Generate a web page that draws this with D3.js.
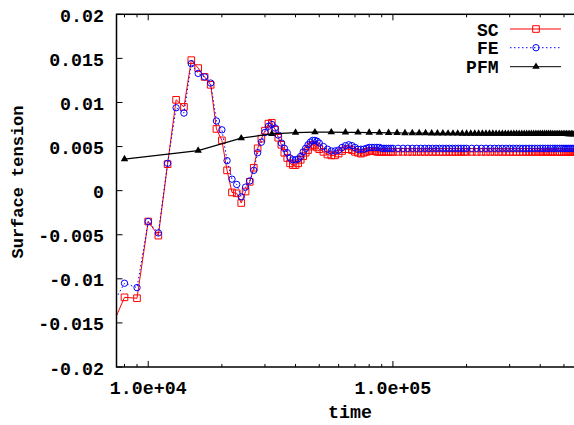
<!DOCTYPE html>
<html><head><meta charset="utf-8">
<script src="https://cdn.jsdelivr.net/npm/d3@7"></script>
<style>
html,body{margin:0;padding:0;background:#fff;overflow:hidden}
svg text{font-family:"Liberation Mono","DejaVu Sans Mono",monospace;font-weight:bold}
</style></head>
<body>
<svg id="c" width="574" height="425"></svg>
<script>
// sample times (in thousands) for SC and FE
const timeK = [7,8,9,10,11,12,13,14,15,16,17,18,19,20,21,22,23,24,25,26,27,28,29,30,31,32,33,34,35,36,37,38,39,40,41,42,43,44,45,46,47,48,49,50,
52,54,56,58,60,62,64,66,68,70,72,74,76,78,80,82,84,86,88,90,92,94,96,98,100,
105,110,115,120,125,130,135,140,145,150,155,160,165,170,175,180,185,190,195,200,
210,220,230,240,250,260,270,280,290,300,310,320,330,340,350,360,370,380,390,400,
410,420,430,440,450,460,470,480,490,500,510,520,530,540,550,560,570,580,590,600];
const sc = [-0.0158,-0.0121,-0.0122,-0.0035,-0.0051,0.0030,0.0103,0.0095,0.0148,0.0139,0.0129,0.0120,0.0070,0.0057,0.0023,-0.0002,-0.0003,-0.0014,-0.0001,0.0010,0.0026,0.0048,0.0059,0.0068,0.0076,0.0077,0.0069,0.0060,0.0052,0.0043,0.0037,0.0031,0.0029,0.0029,0.0031,0.0035,0.0039,0.0043,0.0046,0.0050,0.0052,0.0051,0.0049,0.0047,
0.0044,0.0041,0.0040,0.0040,0.0042,0.0045,0.0047,0.0047,0.0046,0.0044,0.0043,0.0042,0.0043,0.0044,0.0045,0.0045,0.0045,0.0044,0.0044,0.0044,0.0044,0.0044,0.0044,0.0044,0.0044,
0.0044,0.0044,0.0044,0.0044,0.0044,0.0044,0.0044,0.0044,0.0044,0.0044,0.0044,0.0044,0.0044,0.0044,0.0044,0.0044,0.0044,0.0044,0.0044,0.0044,
0.0044,0.0044,0.0044,0.0044,0.0044,0.0044,0.0044,0.0044,0.0044,0.0044,0.0044,0.0044,0.0044,0.0044,0.0044,0.0044,0.0044,0.0044,0.0044,0.0044,
0.0044,0.0044,0.0044,0.0044,0.0044,0.0044,0.0044,0.0044,0.0044,0.0044,0.0044,0.0044,0.0044,0.0044,0.0044,0.0044,0.0044,0.0044,0.0044,0.0044];
const fe = [-0.0134,-0.0105,-0.0110,-0.0035,-0.0048,0.0031,0.0094,0.0088,0.0144,0.0133,0.0129,0.0122,0.0079,0.0069,0.0034,0.0013,0.0007,-0.0007,0.0004,0.0011,0.0023,0.0043,0.0055,0.0066,0.0073,0.0075,0.0071,0.0063,0.0054,0.0048,0.0043,0.0037,0.0035,0.0035,0.0036,0.0039,0.0044,0.0048,0.0052,0.0055,0.0057,0.0057,0.0056,0.0054,
0.0050,0.0047,0.0045,0.0045,0.0046,0.0049,0.0051,0.0052,0.0051,0.0049,0.0047,0.0047,0.0047,0.0048,0.0049,0.0049,0.0049,0.0049,0.0049,0.0048,0.0048,0.0048,0.0048,0.0048,0.0048,
0.0048,0.0048,0.0048,0.0048,0.0048,0.0048,0.0048,0.0048,0.0048,0.0048,0.0048,0.0048,0.0048,0.0048,0.0048,0.0048,0.0048,0.0048,0.0048,0.0048,
0.0048,0.0048,0.0048,0.0048,0.0048,0.0048,0.0048,0.0048,0.0048,0.0048,0.0048,0.0048,0.0048,0.0048,0.0048,0.0048,0.0048,0.0048,0.0048,0.0048,
0.0048,0.0048,0.0048,0.0048,0.0048,0.0048,0.0048,0.0048,0.0048,0.0048,0.0048,0.0048,0.0048,0.0048,0.0048,0.0048,0.0048,0.0048,0.0048,0.0048];
// PFM sample times (thousands)
const pfmTimeK = [8,16,24,32,40,48,56,64,72,80,88,96,104,112,120,128,136,144,152,160,
168,176,184,192,200,208,216,224,232,240,248,256,264,272,280,288,296,304,312,320,
328,336,344,352,360,368,376,384,392,400,408,416,424,432,440,448,456,464,472,480,
488,496,504,512,520,528,536,544,552,560,568,576,584,592,600];
const pfm = [0.00357,0.00454,0.00595,0.00643,0.00658,0.00663,0.00663,0.00662,0.00660,0.00659,0.00657,0.00656,0.00655,0.00654,0.00653,0.00652,0.00652,0.00651,0.00650,0.00650,
0.00649,0.00649,0.00649,0.00648,0.00648,0.00648,0.00648,0.00647,0.00647,0.00647,0.00647,0.00647,0.00646,0.00646,0.00646,0.00646,0.00646,0.00646,0.00646,0.00646,
0.00645,0.00645,0.00645,0.00645,0.00645,0.00645,0.00645,0.00644,0.00644,0.00644,0.00644,0.00644,0.00644,0.00644,0.00644,0.00643,0.00643,0.00643,0.00643,0.00643,
0.00643,0.00643,0.00643,0.00643,0.00642,0.00642,0.00642,0.00642,0.00642,0.00642,0.00642,0.00642,0.00642,0.00642,0.00642];
const yTicks = [-0.02,-0.015,-0.01,-0.005,0,0.005,0.01,0.015,0.02];
const yTickLabels = ["-0.02","-0.015","-0.01","-0.005","0","0.005","0.01","0.015","0.02"];
const xTicks = [1e4,1e5];
const xTickLabels = ["1.0e+04","1.0e+05"];
const xMinor = [8e3,9e3,2e4,3e4,4e4,5e4,6e4,7e4,8e4,9e4,2e5,3e5,4e5,5e5,6e5];
const seriesNames = ["SC","FE","PFM"];

const L=116.5, T=14.3, B=367, xmin=7420, xmax=6e5;
const decade=244.7;
const R = L + decade*Math.log10(xmax/xmin);
const svg=d3.select("#c");
const x=d3.scaleLog().domain([xmin,xmax]).range([L,R]);
const y=d3.scaleLinear().domain([-0.02,0.02]).range([B,T]);

svg.append("defs").append("clipPath").attr("id","pc").append("rect")
  .attr("x",L).attr("y",T).attr("width",R-L).attr("height",B-T);

// ticks
const tk=svg.append("g").attr("stroke","#000").attr("stroke-width",1);
yTicks.forEach(v=>{
  tk.append("line").attr("x1",L).attr("x2",L+6).attr("y1",y(v)).attr("y2",y(v));
  tk.append("line").attr("x1",R).attr("x2",R-6).attr("y1",y(v)).attr("y2",y(v));
});
xTicks.forEach(v=>{
  tk.append("line").attr("x1",x(v)).attr("x2",x(v)).attr("y1",B).attr("y2",B-6);
  tk.append("line").attr("x1",x(v)).attr("x2",x(v)).attr("y1",T).attr("y2",T+6);
});
xMinor.forEach(v=>{
  tk.append("line").attr("x1",x(v)).attr("x2",x(v)).attr("y1",B).attr("y2",B-3);
  tk.append("line").attr("x1",x(v)).attr("x2",x(v)).attr("y1",T).attr("y2",T+3);
});
yTicks.forEach((v,i)=>{
  svg.append("text").attr("x",104).attr("y",y(v)+7.5).attr("text-anchor","end")
    .attr("font-size",18.3).text(yTickLabels[i]);
});
xTicks.forEach((v,i)=>{
  svg.append("text").attr("x",x(v)).attr("y",393.5).attr("text-anchor","middle")
    .attr("font-size",18.3).text(xTickLabels[i]);
});
svg.append("text").attr("x",350).attr("y",418).attr("text-anchor","middle").attr("font-size",18.3).text("time");
svg.append("text").attr("transform","translate(23,182) rotate(-90)").attr("text-anchor","middle").attr("font-size",17).text("Surface tension");

const plot=svg.append("g").attr("clip-path","url(#pc)");
const dSC=timeK.map((t,i)=>[t*1000,sc[i]]);
const dFE=timeK.map((t,i)=>[t*1000,fe[i]]);
const dPF=pfmTimeK.map((t,i)=>[t*1000,pfm[i]]);
const line=d3.line().x(d=>x(d[0])).y(d=>y(d[1]));
const sq=d3.symbol().type(d3.symbolSquare).size(44);
const tri=d3.symbol().type(d3.symbolTriangle).size(24);

plot.append("path").datum(dSC).attr("d",line).attr("fill","none").attr("stroke","#f00").attr("stroke-width",1);
plot.selectAll(".sq").data(dSC).enter().append("path").attr("d",sq)
  .attr("transform",d=>`translate(${x(d[0])},${y(d[1])})`).attr("fill","none").attr("stroke","#f00").attr("stroke-width",1);
plot.append("path").datum(dFE).attr("d",line).attr("fill","none").attr("stroke","#00f").attr("stroke-width",1).attr("stroke-dasharray","1.5,2.5");
plot.selectAll(".ci").data(dFE).enter().append("circle").attr("cx",d=>x(d[0])).attr("cy",d=>y(d[1])).attr("r",3.2)
  .attr("fill","none").attr("stroke","#00f").attr("stroke-width",1);
plot.append("path").datum(dPF).attr("d",line).attr("fill","none").attr("stroke","#000").attr("stroke-width",1.2);
plot.selectAll(".tr").data(dPF).enter().append("path").attr("d",tri)
  .attr("transform",d=>`translate(${x(d[0])},${y(d[1])})`).attr("fill","#000");

// border
svg.append("rect").attr("x",L).attr("y",T).attr("width",R-L).attr("height",B-T)
  .attr("fill","none").attr("stroke","#000").attr("stroke-width",1.5);

// legend
const lg=svg.append("g");
const ly=[29,47.7,66.7];
const cols=["#f00","#00f","#000"];
seriesNames.forEach((n,i)=>{
  lg.append("text").attr("x",498.5).attr("y",ly[i]+6.5).attr("text-anchor","end").attr("font-size",18).text(n);
  const l=lg.append("line").attr("x1",510).attr("x2",561).attr("y1",ly[i]).attr("y2",ly[i]).attr("stroke",cols[i]).attr("stroke-width",1);
  if(i===1) l.attr("stroke-dasharray","1.5,2.5");
});
lg.append("path").attr("d",sq).attr("transform",`translate(536,${ly[0]})`).attr("fill","none").attr("stroke","#f00");
lg.append("circle").attr("cx",536).attr("cy",ly[1]).attr("r",3.2).attr("fill","none").attr("stroke","#00f");
lg.append("path").attr("d",tri).attr("transform",`translate(536,${ly[2]})`).attr("fill","#000");
</script>
</body></html>
